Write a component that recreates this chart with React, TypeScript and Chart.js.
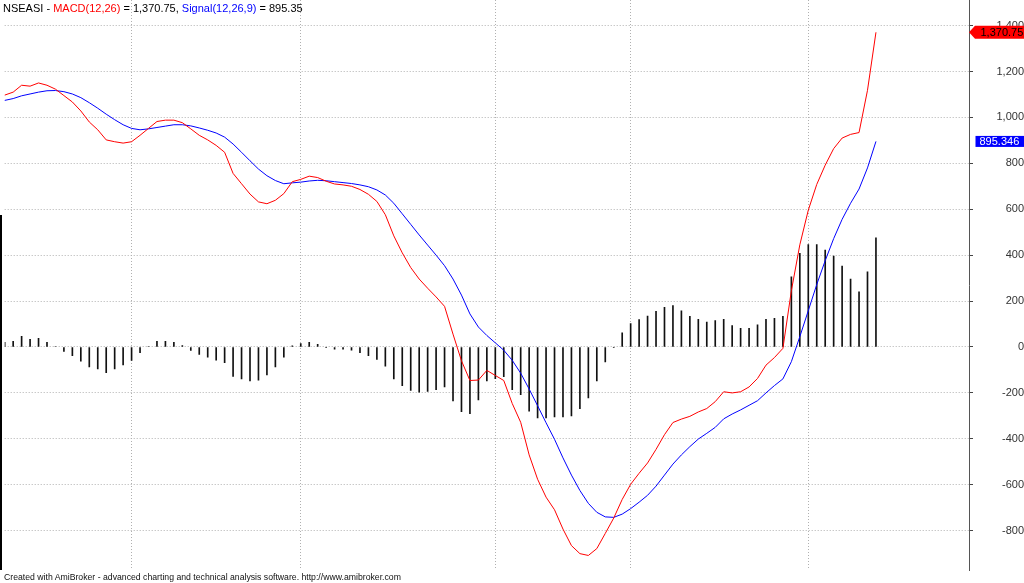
import React, { useEffect, useRef } from "react";
import { Chart, registerables } from "chart.js";

Chart.register(...registerables);

// ---------- data ----------
const symbol = "NSEASI";
const macdLabel = "MACD(12,26)";
const signalLabel = "Signal(12,26,9)";

const barNumbers: string[] = Array.from({ length: 104 }, (_, i) => String(i + 1));

const macd: number[] = [
  1097, 1110, 1140, 1136, 1150, 1140, 1123, 1095, 1067, 1028,
  980, 946, 902, 894, 888, 894, 922, 952, 982, 988,
  988, 977, 950, 922, 902, 878, 848, 756, 711, 666,
  632, 624, 639, 668, 720, 730, 744, 738, 722, 710,
  706, 700, 686, 665, 634, 576, 484, 410, 346, 296,
  256, 218, 177, 56, -60, -146, -144, -102, -124, -146,
  -246, -328, -470, -576, -654, -709, -793, -865, -900, -908,
  -878, -812, -745, -664, -598, -550, -505, -446, -382, -329,
  -314, -302, -283, -268, -238, -195, -200, -195, -174, -137,
  -79, -46, -6, 245, 445, 596, 708, 792, 864, 910,
  926, 934, 1118, 1370.75,
];

const signal: number[] = [
  1074, 1082, 1094, 1102, 1110, 1116, 1117, 1112, 1102, 1086,
  1064, 1040, 1014, 990, 968, 952, 946, 950, 956, 962,
  968, 968, 963, 954, 944, 932, 914, 884, 848, 811,
  775, 746, 725, 711, 715, 718, 723, 726, 724, 720,
  716, 712, 706, 698, 684, 662, 626, 580, 534, 488,
  444, 400, 354, 296, 226, 144, 87, 50, 18, -14,
  -58, -114, -183, -256, -330, -402, -483, -558, -625, -681,
  -720, -740, -742, -728, -704, -676, -646, -606, -558, -510,
  -470, -434, -401, -376, -350, -313, -292, -274, -254, -234,
  -200, -168, -139, -64, 45, 158, 272, 376, 472, 556,
  626, 688, 780, 895.346,
];

const histogram: number[] = [
  20, 25, 46, 33, 38, 20, 2, -19, -38, -62,
  -87, -96, -112, -96, -78, -58, -25, 2, 25, 25,
  20, 6, -15, -32, -44, -57, -68, -128, -139, -148,
  -144, -122, -87, -44, 5, 15, 20, 12, -3, -10,
  -10, -14, -25, -38, -54, -83, -139, -168, -189, -197,
  -193, -186, -174, -235, -282, -290, -230, -148, -138, -129,
  -186, -208, -279, -309, -309, -305, -305, -300, -269, -222,
  -148, -65, -2, 62, 102, 119, 135, 155, 173, 180,
  158, 134, 120, 109, 115, 120, 93, 81, 81, 96,
  120, 125, 134, 306, 408, 446, 446, 422, 396, 352,
  296, 240, 327, 475,
];

const yTickValues: number[] = [-800, -600, -400, -200, 0, 200, 400, 600, 800, 1000, 1200, 1400];
const monthStartBars: number[] = [15, 35, 58, 74, 95];

// ---------- layout / style ----------
const W = 1024;
const H = 583;
const EMPTY_BARS_RIGHT = 11;
const Y_MIN = -971.3;
const Y_MAX = 1511.3;
const FONT = '"Liberation Sans", Arial, sans-serif';
const GRID_COLOR = "#b0b0b0";
const GRID_DASH = [1, 2];

const fmt = (v: number, d: number) =>
  v.toLocaleString("en-US", { minimumFractionDigits: d, maximumFractionDigits: d });

const lastMacd = macd[macd.length - 1];
const lastSignal = signal[signal.length - 1];

const markerPlugin = {
  id: "lastValueMarkers",
  afterDraw(chart: any) {
    const ctx = chart.ctx as CanvasRenderingContext2D;
    const ys = chart.scales.y;
    const area = chart.chartArea;
    const ax = Math.round(area.right);
    const right = chart.width;
    const yM = ys.getPixelForValue(lastMacd);
    const yS = ys.getPixelForValue(lastSignal);
    ctx.save();
    // red marker with arrow
    ctx.fillStyle = "#ff0000";
    ctx.beginPath();
    ctx.moveTo(ax, yM);
    ctx.lineTo(ax + 6, yM - 6.5);
    ctx.lineTo(right, yM - 6.5);
    ctx.lineTo(right, yM + 6.5);
    ctx.lineTo(ax + 6, yM + 6.5);
    ctx.closePath();
    ctx.fill();
    ctx.font = `11px ${FONT}`;
    ctx.textBaseline = "middle";
    ctx.textAlign = "left";
    ctx.fillStyle = "#000";
    ctx.fillText(fmt(lastMacd, 2), ax + 11.5, yM + 0.5);
    // blue box
    ctx.fillStyle = "#0000ff";
    ctx.fillRect(ax + 6.5, yS - 5.5, right - (ax + 6.5), 11);
    ctx.fillStyle = "#ffffff";
    ctx.fillText(fmt(lastSignal, 3), ax + 10.5, yS + 0.5);
    // dark edge on the left
    ctx.fillStyle = "#000";
    ctx.fillRect(0, 215, 2, area.bottom - 215);
    ctx.restore();
  },
};

export default function App() {
  const ref = useRef<HTMLCanvasElement>(null);

  useEffect(() => {
    const labels = [...barNumbers, ...Array(EMPTY_BARS_RIGHT).fill("")];
    const chart = new Chart(ref.current as HTMLCanvasElement, {
      type: "line",
      data: {
        labels,
        datasets: [
          {
            type: "line",
            label: macdLabel,
            data: macd,
            borderColor: "#ff0000",
            borderWidth: 1,
            pointRadius: 0,
            tension: 0,
            fill: false,
            order: 1,
          } as any,
          {
            type: "line",
            label: signalLabel,
            data: signal,
            borderColor: "#0000ff",
            borderWidth: 1,
            pointRadius: 0,
            tension: 0,
            fill: false,
            order: 2,
          } as any,
          {
            type: "bar",
            label: "Histogram",
            data: histogram,
            backgroundColor: "#111111",
            borderWidth: 0,
            barThickness: 1,
            order: 3,
          } as any,
        ],
      },
      options: {
        responsive: false,
        animation: false,
        events: [],
        layout: { padding: { left: 4.7, right: 0, top: 0, bottom: 13 } },
        plugins: {
          legend: { display: false },
          tooltip: { enabled: false },
          title: { display: false },
        },
        scales: {
          x: {
            type: "category",
            offset: false,
            ticks: { display: false, autoSkip: false },
            grid: {
              display: true,
              offset: false,
              drawTicks: false,
              color: (c: any) =>
                monthStartBars.includes(c.index) ? GRID_COLOR : "rgba(0,0,0,0)",
              lineWidth: 1,
            },
            border: { display: false, dash: GRID_DASH },
            afterFit: (s: any) => {
              s.height = 0;
              s.paddingLeft = 0;
              s.paddingRight = 0;
            },
          },
          y: {
            type: "linear",
            position: "right",
            min: Y_MIN,
            max: Y_MAX,
            afterBuildTicks: (s: any) => {
              s.ticks = yTickValues.map((v) => ({ value: v }));
            },
            afterFit: (s: any) => {
              s.width = 55;
              s.paddingTop = 0;
              s.paddingBottom = 0;
            },
            ticks: {
              padding: 19,
              crossAlign: "far",
              color: "#333333",
              font: { family: FONT, size: 11 },
              callback: (v: any) => Number(v).toLocaleString("en-US"),
            },
            grid: {
              color: GRID_COLOR,
              lineWidth: 1,
              drawTicks: true,
              tickLength: 4,
              tickColor: "#444444",
              tickWidth: 1,
              tickBorderDash: [],
            },
            border: { display: true, color: "#555555", width: 1, dash: GRID_DASH },
          },
        },
      } as any,
      plugins: [markerPlugin],
    });
    return () => chart.destroy();
  }, []);

  return (
    <div
      style={{
        position: "fixed",
        left: 0,
        top: 0,
        width: W,
        height: H,
        background: "#ffffff",
        overflow: "hidden",
      }}
    >
      <canvas
        ref={ref}
        width={W}
        height={H}
        style={{ position: "absolute", left: 0, top: 0, width: W, height: H }}
      />
      <div
        style={{
          position: "absolute",
          left: 3,
          top: 2,
          font: `11px ${FONT}`,
          lineHeight: "13px",
          whiteSpace: "pre",
          color: "#000",
        }}
      >
        {`${symbol} - `}
        <span style={{ color: "#ff0000" }}>{macdLabel}</span>
        {` = ${fmt(lastMacd, 2)}, `}
        <span style={{ color: "#0000ff" }}>{signalLabel}</span>
        {` = ${fmt(lastSignal, 2)}`}
      </div>
      <div
        style={{
          position: "absolute",
          left: 4,
          top: 572,
          font: `8.7px ${FONT}`,
          lineHeight: "10px",
          whiteSpace: "pre",
          color: "#111",
        }}
      >
        Created with AmiBroker - advanced charting and technical analysis software. http://www.amibroker.com
      </div>
    </div>
  );
}
